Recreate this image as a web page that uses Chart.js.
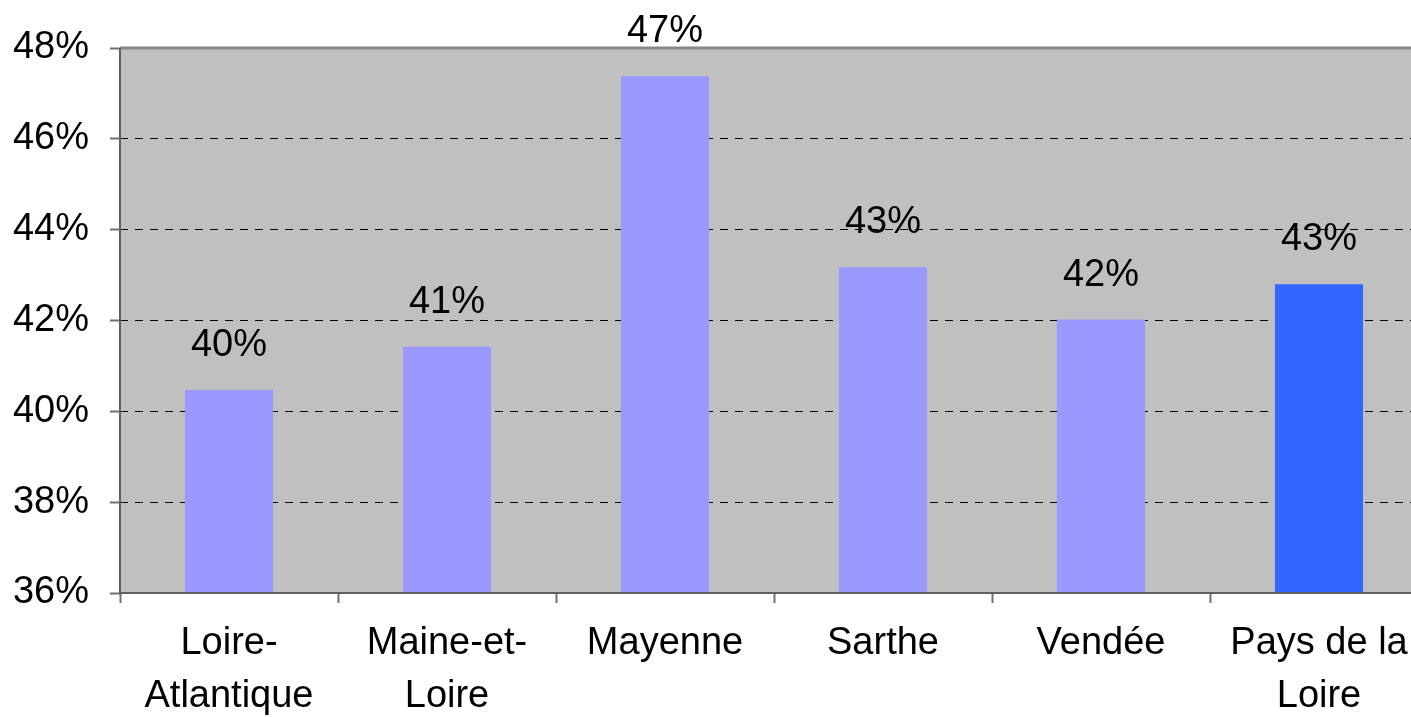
<!DOCTYPE html>
<html>
<head>
<meta charset="utf-8">
<script src="https://cdn.jsdelivr.net/npm/chart.js@4"></script>
<style>
    html, body { margin: 0; padding: 0; background: #fff; overflow: hidden; }
    #wrap { width: 1428px; height: 717px; }
</style>
</head>
<body>
<div id="wrap"><canvas id="chart"></canvas></div>
<script>
const categories = [['Loire-', 'Atlantique'], ['Maine-et-', 'Loire'], 'Mayenne', 'Sarthe', 'Vendée', ['Pays de la', 'Loire']];
const shares = [40.47, 41.42, 47.38, 43.17, 42.02, 42.8];
const barColors = ['#9999ff', '#9999ff', '#9999ff', '#9999ff', '#9999ff', '#3366ff'];
const yTicks = [36, 38, 40, 42, 44, 46, 48];

const FONT = 'Liberation Sans, Arial, sans-serif';
const FONT_SIZE = 38;

// grey plot background + frame
const plotFrame = {
    id: 'plotFrame',
    beforeDraw(chart) {
        const { ctx, chartArea: a } = chart;
        ctx.save();
        ctx.fillStyle = '#c0c0c0';
        ctx.fillRect(a.left, a.top, a.right - a.left, a.bottom - a.top);
        ctx.restore();
    },
    afterDraw(chart) {
        const { ctx, chartArea: a } = chart;
        ctx.save();
        ctx.strokeStyle = '#888888';
        ctx.lineWidth = 3;
        ctx.beginPath();
        ctx.moveTo(a.left, a.top);
        ctx.lineTo(a.right, a.top);
        ctx.stroke();
        ctx.strokeStyle = '#606060';
        ctx.lineWidth = 2;
        ctx.beginPath();
        ctx.moveTo(a.left, a.top);
        ctx.lineTo(a.left, a.bottom);
        ctx.lineTo(a.right, a.bottom);
        ctx.stroke();
        ctx.restore();
    }
};

// value labels above the bars
const valueLabels = {
    id: 'valueLabels',
    afterDatasetsDraw(chart) {
        const { ctx } = chart;
        const meta = chart.getDatasetMeta(0);
        ctx.save();
        ctx.font = FONT_SIZE + 'px ' + FONT;
        ctx.fillStyle = '#000';
        ctx.textAlign = 'center';
        ctx.textBaseline = 'alphabetic';
        meta.data.forEach((bar, i) => {
            ctx.fillText(Math.round(shares[i]) + '%', bar.x, bar.y - 34);
        });
        ctx.restore();
    }
};

new Chart(document.getElementById('chart'), {
    type: 'bar',
    data: {
        labels: categories,
        datasets: [{
            data: shares,
            backgroundColor: barColors,
            borderWidth: 0,
            barPercentage: 0.404,
            categoryPercentage: 1
        }]
    },
    options: {
        responsive: true,
        maintainAspectRatio: false,
        animation: false,
        layout: { padding: { left: 0, right: 0, top: 48, bottom: 0 } },
        plugins: {
            legend: { display: false },
            tooltip: { enabled: false }
        },
        scales: {
            x: {
                offset: true,
                grid: {
                    offset: true,
                    drawOnChartArea: false,
                    drawTicks: true,
                    tickLength: 10,
                    tickColor: '#707070',
                    tickWidth: 2
                },
                border: { display: false },
                ticks: {
                    color: '#000',
                    font: { family: FONT, size: FONT_SIZE, lineHeight: 1.4 },
                    padding: 14,
                    maxRotation: 0,
                    autoSkip: false
                },
                afterFit: (s) => { s.height = 124; }
            },
            y: {
                min: 36,
                max: 48,
                afterBuildTicks: (s) => { s.ticks = yTicks.map(v => ({ value: v })); },
                grid: {
                    color: (c) => (c.tick && (c.tick.value === 36 || c.tick.value === 48)) ? 'rgba(0,0,0,0)' : '#000',
                    lineWidth: 1,
                    tickLength: 10,
                    tickColor: '#707070',
                    tickWidth: 2
                },
                border: { display: false, dash: [8, 7] },
                ticks: {
                    color: '#000',
                    font: { family: FONT, size: FONT_SIZE },
                    padding: 21,
                    callback: (v) => v + '%'
                },
                afterFit: (s) => { s.width = 120; }
            }
        }
    },
    plugins: [plotFrame, valueLabels]
});
</script>
</body>
</html>
